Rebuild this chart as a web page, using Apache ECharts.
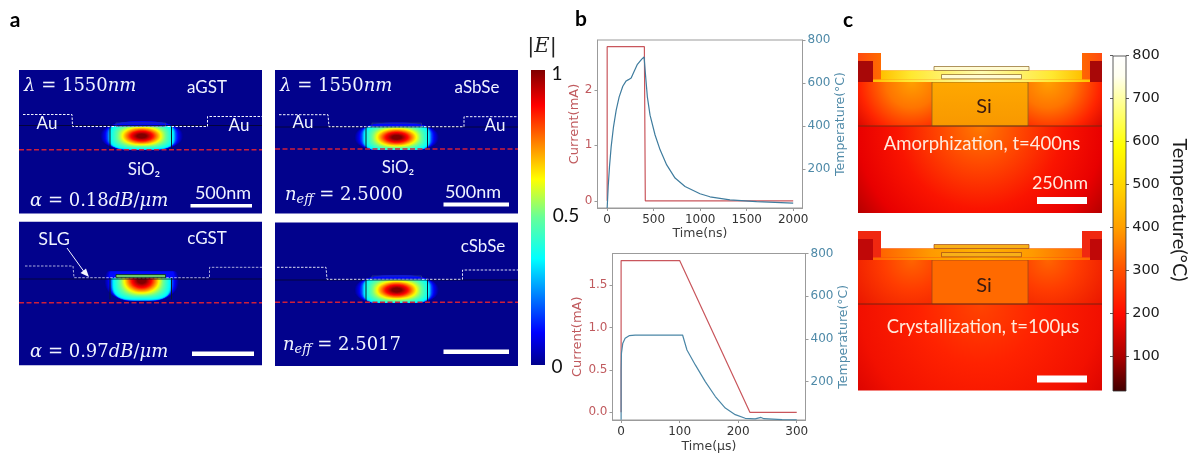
<!DOCTYPE html>
<html><head><meta charset="utf-8">
<style>html,body{margin:0;padding:0;background:#fff}#c{width:1199px;height:456px}</style>
<script src="https://cdn.jsdelivr.net/npm/echarts@6/dist/echarts.min.js"></script>
</head><body><div id="c"></div>
<script>
// ---- data ----
const amorphTimeNs   = [0,11,25,43,68,97,129,168,204,229,258,282,325,372,397,411,432,461,515,569,640,730,837,998,1105,1320,1606,2000];
const amorphTempC    = [20,120,212,305,397,474,536,585,610,616,624,647,687,711,721,644,536,451,359,290,220,159,120,86,72,58,50,43];
const amorphCurTime  = [0,0,400,410,2000];
const amorphCurrent  = [0,2.78,2.78,0,0];
const crystTimeUs    = [0,0,0.6,2.9,6.9,13.7,24,105,112.5,126.8,143.8,161,178,195,212,229,239,244,275,300];
const crystTempC     = [21,255,333,380,403,415,418,418,348,278,200,130,76,45,28,25,32,26,22,21];
const crystCurTime   = [0,0,100,220,300];
const crystCurrent   = [0,1.79,1.79,0,0];
const topTimeTicks   = [0,500,1000,1500,2000];
const botTimeTicks   = [0,100,200,300];
const topCurTicks    = [0,1,2];
const botCurTicks    = [0,0.5,1,1.5];
const tempTicks      = [200,400,600,800];
const fieldBarLabels = ['1','0.5','0'];
const heatBarLabels  = ['800','700','600','500','400','300','200','100'];

const zip=(a,b)=>a.map((v,i)=>[v,b[i]]);
const RED='#c05a5e', BLUE='#4f8aa8', SPINE='#9b9b9b', SANS='"DejaVu Sans"', CAL='Lato', SERIF='"DejaVu Serif"', WHITE='#f0f3ff', NAVY='#02028c';

// ---- graphic helpers (illustration panels a and c) ----
const g=[];
const rect=(x,y,w,h,fill,stroke,lw)=>g.push({type:'rect',shape:{x,y,width:w,height:h},silent:true,style:{fill:fill||'none',stroke:stroke||null,lineWidth:lw||0}});
const poly=(pts,fill)=>g.push({type:'polygon',shape:{points:pts},silent:true,style:{fill}});
const line=(pts,stroke,lw,dash)=>g.push({type:'polyline',shape:{points:pts},silent:true,style:{fill:'none',stroke,lineWidth:lw,lineDash:dash||null}});
const txt=(x,y,text,font,fill,extra)=>g.push(Object.assign({type:'text',x,y,silent:true,style:Object.assign({text,font,fill,align:'center',verticalAlign:'middle'},extra&&extra.style||{})},extra&&extra.el||{}));
const lin=(x,y,x2,y2,stops)=>({type:'linear',x,y,x2,y2,colorStops:stops.map(s=>({offset:s[0],color:s[1]}))});
const rad=(x,y,r,stops)=>({type:'radial',x,y,r,global:true,colorStops:stops.map(s=>({offset:s[0],color:s[1]}))});

const jetStops=[[0,'#00008c'],[0.11,'#0000ff'],[0.36,'#00ffff'],[0.5,'#66ff99'],[0.63,'#ffff00'],[0.88,'#ff0000'],[1,'#7f0000']];
function jet(v){
  for(let i=1;i<jetStops.length;i++){ if(v<=jetStops[i][0]){
    const a=jetStops[i-1],b=jetStops[i],t=(v-a[0])/(b[0]-a[0]);
    const h=c=>[1,3,5].map(k=>parseInt(c.substr(k,2),16));
    const A=h(a[1]),B=h(b[1]);
    return 'rgb('+A.map((p,j)=>Math.round(p+(B[j]-p)*t)).join(',')+')';
  }}
  return '#7f0000';
}
// contour table: level, half width, half height, superellipse exponent
const contour=[[0.02,41,15,2.3],[0.1,37,14.5,2.6],[0.2,34,14,3],[0.3,32.5,13.5,3.5],[0.36,31.5,13,3.5],[0.45,27,11.5,3],[0.55,22.5,10,2.5],[0.63,19.5,8.7,2.2],[0.75,15.5,7,2],[0.88,11,5,2],[1,5,2.2,2]];
function field(cx,cy,sa,sb,top,bottom,topInner){
  const steps=50;
  for(let s=0;s<=steps;s++){
    const v=0.02+(0.98*s)/steps;
    let k=1; while(contour[k][0]<v&&k<contour.length-1)k++;
    const A=contour[k-1],B=contour[k],t=(v-A[0])/(B[0]-A[0]);
    const a=(A[1]+(B[1]-A[1])*t)*sa,b=(A[2]+(B[2]-A[2])*t)*sb,p=A[3]+(B[3]-A[3])*t;
    const pts=[];
    for(let i=0;i<72;i++){
      const th=i/72*2*Math.PI,c=Math.cos(th),d=Math.sin(th);
      let x=cx+a*Math.sign(c)*Math.pow(Math.abs(c),2/p),y=cy+b*Math.sign(d)*Math.pow(Math.abs(d),2/p);
      const tp=v<0.12?top:topInner;
      if(y<tp)y=tp; if(y>bottom)y=bottom;
      pts.push([x,y]);
    }
    poly(pts,jet(v));
  }
}
function wavePanel(o){
  rect(o.x,o.y,243,143.5,NAVY);
  field(o.cx,o.cy,o.sa,o.sb,o.haloTop,o.wgBot+1,o.wgTop);
  line([[o.x,o.film],[o.x+243,o.film]],'#050528',0.8);
  line(o.au,'#f4f6ff',o.auW,[2.5,1.5]);
  line([[o.wgL,o.wgTop],[o.wgL,o.wgBot]],'#0a1a30',1);
  line([[o.wgL+61.5,o.wgTop],[o.wgL+61.5,o.wgBot]],'#0a1a30',1);
  rect(o.wgL+6,o.wgTop-3.5,49.5,3.2,o.slg?'rgba(120,220,90,0.9)':'none',o.slg?'#0a2a18':'#2a3a8c',0.8);
  line([[o.x,o.red],[o.x+243,o.red]],'#cf1f3a',1.4,[5,2.5]);
}
const mathFont='18px '+SERIF;
const mathRich={i:{fontStyle:'italic',fontFamily:'DejaVu Serif',fontSize:18,fill:WHITE},
  n:{fontFamily:'DejaVu Serif',fontSize:18,fill:WHITE},
  s:{fontStyle:'italic',fontFamily:'DejaVu Serif',fontSize:13,fill:WHITE,padding:[9,0,0,0]}};
const mathTxt=(x,y,t)=>txt(x,y,t,mathFont,WHITE,{style:{align:'left',rich:mathRich}});
const lab=(x,y,t,s)=>txt(x,y,t,(s||17)+'px '+CAL,WHITE);

// panel a
wavePanel({x:19,y:70,cx:141.7,cy:136,sa:1,sb:1,haloTop:121,wgTop:126.5,wgBot:148.5,wgL:110,film:125.5,red:149.7,auW:1,
  au:[[23,114.5],[72,114.5],[72.5,126.5],[207.5,126.5],[207.5,116.5],[262,116.5]]});
wavePanel({x:275,y:70,cx:396.7,cy:137.3,sa:1.02,sb:1,haloTop:122,wgTop:126.7,wgBot:149,wgL:366,film:127,red:149,auW:1,
  au:[[279,114.7],[328,114.7],[329,126.7],[464,126.7],[464,116.7],[518,116.7]]});
wavePanel({x:19,y:221.7,cx:141.7,cy:280.5,sa:0.9,sb:1.45,haloTop:271.5,wgTop:278,wgBot:299.5,wgL:110,film:279,red:302.7,auW:0.7,slg:true,
  au:[[25,266],[73,266],[74,277.7],[209.5,277.7],[209.5,267.3],[262,267.3]]});
wavePanel({x:275,y:222.5,cx:396.7,cy:290,sa:1.02,sb:1.02,haloTop:275,wgTop:279.5,wgBot:301.5,wgL:366,film:280,red:302.3,auW:0.9,
  au:[[277,267.3],[326,267.3],[327,279.3],[462.5,279.3],[462.5,270],[518,270]]});

mathTxt(24,86,'{i|λ}{n| = 1550}{i|nm}');
mathTxt(280,86,'{i|λ}{n| = 1550}{i|nm}');
mathTxt(30,201,'{i|α}{n| = 0.18}{i|dB}{n|/}{i|μm}');
mathTxt(30,352,'{i|α}{n| = 0.97}{i|dB}{n|/}{i|μm}');
mathTxt(285,195,'{i|n}{s|eff}{n| = 2.5000}');
mathTxt(283,345,'{i|n}{s|eff}{n| = 2.5017}');
lab(207,88,'aGST'); lab(477,88,'aSbSe'); lab(207,239,'cGST'); lab(483,247,'cSbSe');
lab(47,124,'Au'); lab(239,125.5,'Au'); lab(303,123,'Au'); lab(495,126,'Au');
lab(144,170,'SiO₂'); lab(398,168,'SiO₂');
lab(54,239,'SLG',18);
lab(223,193,'500nm',18); lab(473,192,'500nm',18);
rect(190.5,204,61.5,3.5,'#ffffff'); rect(443.5,202.5,65.5,4,'#ffffff');
rect(192,351.5,62,4.5,'#ffffff'); rect(443.5,349.5,65.5,4.5,'#ffffff');
line([[67,248],[85,273]],'#f4f6ff',1);
poly([[89,277],[80.5,273],[86,268.5]],'#f4f6ff');

// field colour bar
rect(531,70,14,295,lin(0,1,0,0,jetStops));
txt(542,47,'|E|','italic 21px '+SERIF,'#222');
txt(557,74,fieldBarLabels[0],'19px '+CAL,'#111');
txt(566,216,fieldBarLabels[1],'19px '+CAL,'#111');
txt(557,367,fieldBarLabels[2],'19px '+CAL,'#111');

// panel c
function thermal(o){
  const x0=858,x1=1102,T=o.top,B=o.bot,M=o.mid;
  rect(x0,M,x1-x0,B-M,rad(980,M,o.lowR,o.low));
  rect(x0,T,74,M-T,rad(912,T,74,o.side));
  rect(1028,T,74,M-T,rad(1048,T,74,o.side));
  rect(932,T,96,M-T,o.si,o.edge,0.8);
  line([[x0,M],[x1,M]],o.line,0.9);
  const S=T-11.5, E=T-29;
  poly([[x0,E],[881,E],[881,S],[1082,S],[1082,E],[x1,E],[x1,T],[x0,T]],lin(0,0,1,0,o.top_));
  rect(881,S,201,9,lin(0,0,1,0,o.strip));
  rect(873,T-2.5,217,2.5,lin(0,0,1,0,o.strip));
  rect(934,S-4,95,4,o.raised,o.edge,0.7);
  rect(941.5,S+4,80,4.3,o.raised,o.edge,0.7);
  rect(x0,T-21,15,21,o.blk);
  rect(1090,T-21,12,21,o.blk);
}
thermal({top:82,mid:126,bot:213,lowR:150,si:lin(0,0,0,1,[[0,'#ffa800'],[1,'#f89800']]),edge:'#8c6420',line:'#6e2a10',blk:'#a80808',
  low:[[0,'#ff7a00'],[0.25,'#ff4a00'],[0.55,'#fa1400'],[0.82,'#e80000'],[1,'#b40000']],
  side:[[0,'#ffa000'],[0.35,'#ff7400'],[0.7,'#ff2400'],[1,'#d00000']],
  top_:[[0,'#ff4a10'],[0.09,'#ff6a00'],[0.91,'#ff6a00'],[1,'#ff4a10']],
  strip:[[0,'#ffc000'],[0.15,'#ffe830'],[0.5,'#fffcb0'],[0.85,'#ffe830'],[1,'#ffc000']],
  raised:'#fffbd2'});
thermal({top:260,mid:304,bot:390.5,lowR:150,si:'#ff6a00',edge:'#a04818',line:'#6e2010',blk:'#c00808',
  low:[[0,'#ff4400'],[0.4,'#ff2200'],[0.8,'#f21000'],[1,'#dc0400']],
  side:[[0,'#ff6400'],[0.4,'#ff3c00'],[1,'#e81200']],
  top_:[[0,'#f02810'],[1,'#f02810']],
  strip:[[0,'#ff6400'],[0.25,'#ff9a00'],[0.5,'#ffb400'],[0.75,'#ff9a00'],[1,'#ff6400']],
  raised:'#f8b018'});
const SI='#3a1a10';
txt(984,107,'Si','20px '+CAL,SI); txt(984,286,'Si','20px '+CAL,SI);
const WARM='#ffeadc';
txt(982,144,'Amorphization, t=400ns','18.5px '+CAL,WARM);
txt(983,327.5,'Crystallization, t=100μs','18.5px '+CAL,WARM);
txt(1060,183,'250nm','18px '+CAL,WARM);
rect(1037,197,50,7,'#ffffff'); rect(1037,375.5,50,7,'#ffffff');

// heat colour bar
rect(1113,56,13,335,lin(0,0,0,1,[[0,'#ffffff'],[0.06,'#fffff0'],[0.13,'#ffffa0'],[0.27,'#ffff00'],[0.4,'#ffd000'],[0.51,'#ffa000'],[0.64,'#ff5000'],[0.77,'#ff0a00'],[0.9,'#a80000'],[1,'#400000']]),'#333',0.8);
heatBarLabels.forEach((t,i)=>{
  const y=55.5+i*43;
  txt(1146,y,t,'14.5px '+SANS,'#1c1c1c');
  line([[1110,y],[1113,y]],'#333',0.8); line([[1126,y],[1129,y]],'#333',0.8);
});
txt(1179,210,'Temperature(°C)','20px '+CAL,'#1c1c1c',{el:{rotation:-Math.PI/2}});

txt(15,20,'a','bold 21px '+CAL,'#000'); txt(581,19,'b','bold 21px '+CAL,'#000'); txt(848,20,'c','bold 21px '+CAL,'#000');

// ---- axes ----
const xAxisOf=(i,min,max,ticks,name)=>({type:'value',gridIndex:i,min,max,name,nameLocation:'middle',nameGap:i?20:17,
  nameTextStyle:{color:'#3c3c3c',fontFamily:'DejaVu Sans',fontSize:12.5},
  axisLine:{show:true,onZero:false,lineStyle:{color:SPINE}},axisTick:{show:true,length:3,customValues:ticks,lineStyle:{color:SPINE}},
  axisLabel:{color:'#333',fontFamily:'DejaVu Sans',fontSize:12,customValues:ticks,margin:6,formatter:v=>String(v)},splitLine:{show:false}});
const curAxis=(i,min,max,ticks,fmt,gap)=>({type:'value',gridIndex:i,position:'left',min,max,name:'Current(mA)',nameLocation:'middle',nameGap:gap,
  nameTextStyle:{color:RED,fontFamily:'DejaVu Sans',fontSize:13},
  axisLine:{show:true,onZero:false,lineStyle:{color:SPINE}},axisTick:{show:true,length:3,customValues:ticks,lineStyle:{color:SPINE}},
  axisLabel:{color:RED,fontFamily:'DejaVu Sans',fontSize:12,margin:5,customValues:ticks,formatter:fmt},splitLine:{show:false}});
const tempAxis=i=>({type:'value',gridIndex:i,position:'right',min:20,max:800,name:'Temperature(°C)',nameLocation:'middle',nameGap:i?28:31,nameRotate:90,
  nameTextStyle:{color:BLUE,fontFamily:'DejaVu Sans',fontSize:12.5},
  axisLine:{show:true,onZero:false,lineStyle:{color:SPINE}},axisTick:{show:true,length:3,customValues:tempTicks,lineStyle:{color:SPINE}},
  axisLabel:{color:BLUE,fontFamily:'DejaVu Sans',fontSize:12,margin:5,customValues:tempTicks},splitLine:{show:false}});
const ser=(x,y,data,color)=>({type:'line',xAxisIndex:x,yAxisIndex:y,data,showSymbol:false,symbol:'none',smooth:false,lineStyle:{color,width:1.2},clip:true,silent:true});

const chart=echarts.init(document.getElementById('c'),null,{renderer:'canvas'});
chart.setOption({
  animation:false,backgroundColor:'#fff',
  grid:[{left:597.5,top:40,width:205,height:168,show:true,borderColor:SPINE,borderWidth:1,backgroundColor:'transparent'},
        {left:612.5,top:253.5,width:193,height:166.5,show:true,borderColor:SPINE,borderWidth:1,backgroundColor:'transparent'}],
  xAxis:[xAxisOf(0,-104,2100,topTimeTicks,'Time(ns)'),xAxisOf(1,-14.7,315,botTimeTicks,'Time(μs)')],
  yAxis:[curAxis(0,-0.13,2.9,topCurTicks,v=>String(v),14),tempAxis(0),curAxis(1,-0.09,1.873,botCurTicks,v=>v.toFixed(1),28),tempAxis(1)],
  series:[ser(0,0,zip(amorphCurTime,amorphCurrent),'#c9565c'),ser(0,1,zip(amorphTimeNs,amorphTempC),'#3f7c9e'),
          ser(1,2,zip(crystCurTime,crystCurrent),'#c9565c'),ser(1,3,zip(crystTimeUs,crystTempC),'#4a86a6')],
  graphic:{elements:g}
});
</script></body></html>
